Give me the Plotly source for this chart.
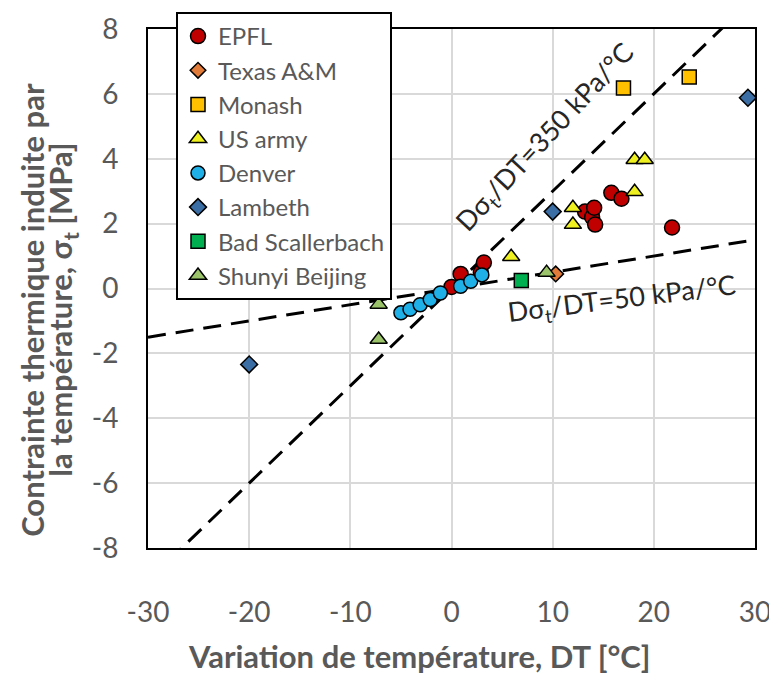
import plotly.graph_objects as go

# ---- data ----
epfl_x = [0.0, 0.9, 2.9, 3.2, 13.2, 13.9, 14.1, 14.2, 15.8, 16.8, 21.8]
epfl_y = [0.05, 0.45, 0.5, 0.8, 2.37, 2.2, 2.49, 1.97, 2.95, 2.77, 1.88]
texas_x = [10.3]
texas_y = [0.45]
monash_x = [17.0, 23.5]
monash_y = [6.18, 6.52]
usarmy_x = [5.9, 12.0, 12.0, 18.1, 19.1, 18.1]
usarmy_y = [0.98, 2.49, 1.97, 3.97, 3.97, 2.98]
denver_x = [-5.0, -4.1, -3.1, -2.1, -1.1, 0.9, 1.9, 3.0]
denver_y = [-0.75, -0.64, -0.5, -0.34, -0.14, 0.07, 0.22, 0.42]
lambeth_x = [-20.0, 10.0, 29.3]
lambeth_y = [-2.34, 2.37, 5.88]
bad_x = [6.9]
bad_y = [0.25]
shunyi_x = [-7.2, -7.2, 9.4]
shunyi_y = [-0.49, -1.57, 0.49]

# reference lines (MPa per degC, as drawn)
line_x = [-30, 30]
slope_350 = 0.30
slope_50 = 0.05

x_ticks = [-30, -20, -10, 0, 10, 20, 30]
x_labels = ["-30", "-20", "-10", "0", "10", "20", "30"]
y_ticks = [-8, -6, -4, -2, 0, 2, 4, 6, 8]
y_labels = ["-8", "-6", "-4", "-2", "0", "2", "4", "6", "8"]

FONT = "Lato"
GREY = "#595959"

# the page body adds an 8px margin, so the figure is 8px smaller on each side
W, H = 769, 668

fig = go.Figure()

dash = dict(color="black", width=3, dash="18px,10px")
fig.add_trace(go.Scatter(x=line_x, y=[slope_350 * v for v in line_x], mode="lines",
                         line=dash, showlegend=False, hoverinfo="skip"))
fig.add_trace(go.Scatter(x=line_x, y=[slope_50 * v for v in line_x], mode="lines",
                         line=dash, showlegend=False, hoverinfo="skip"))

series = [
    ("EPFL", epfl_x, epfl_y, "circle", "#C00000", 15),
    ("Texas A&M", texas_x, texas_y, "diamond", "#E07B39", 12),
    ("Monash", monash_x, monash_y, "square", "#FFC000", 14),
    ("US army", usarmy_x, usarmy_y, "triangle-up", "#EEF020", 15),
    ("Denver", denver_x, denver_y, "circle", "#1FB0E8", 14),
    ("Lambeth", lambeth_x, lambeth_y, "diamond", "#3A6EA5", 13),
    ("Bad Scallerbach", bad_x, bad_y, "square", "#00B050", 14),
    ("Shunyi Beijing", shunyi_x, shunyi_y, "triangle-up", "#9BC46A", 15),
]
for name, xs, ys, sym, col, sz in series:
    fig.add_trace(go.Scatter(
        x=xs, y=ys, mode="markers", name=name,
        marker=dict(symbol=sym, color=col, size=sz,
                    line=dict(color="black", width=1.5)),
    ))

fig.add_annotation(x=9.3, y=4.65, text="Dσ<sub>t</sub>/DT=350 kPa/°C", showarrow=False,
                   textangle=-47, font=dict(family=FONT, size=27, color="#262626"))
fig.add_annotation(x=16.9, y=-0.34, text="Dσ<sub>t</sub>/DT=50 kPa/°C", showarrow=False,
                   textangle=-7, font=dict(family=FONT, size=27, color="#262626"))

# axis titles as positioned text
fig.add_annotation(xref="paper", yref="paper", x=0.448, y=-0.208,
                   text="<b>Variation de température, DT [°C]</b>", showarrow=False,
                   xanchor="center", yanchor="middle",
                   font=dict(family=FONT, size=31, color=GREY))
fig.add_annotation(xref="paper", yref="paper", x=-0.191, y=0.459,
                   text="<b>Contrainte thermique induite par</b>", showarrow=False,
                   textangle=-90, xanchor="center", yanchor="middle",
                   font=dict(family=FONT, size=31, color=GREY))
fig.add_annotation(xref="paper", yref="paper", x=-0.140, y=0.459,
                   text="<b>la température, σ<sub>t</sub> [MPa]</b>", showarrow=False,
                   textangle=-90, xanchor="center", yanchor="middle",
                   font=dict(family=FONT, size=31, color=GREY))

fig.update_layout(
    width=W, height=H,
    margin=dict(l=140, r=22, t=21, b=128, autoexpand=False),
    paper_bgcolor="white", plot_bgcolor="white",
    font=dict(family=FONT, color=GREY),
    legend=dict(xref="container", yref="container",
                x=168 / W, y=1 - 4 / H, xanchor="left", yanchor="top",
                bgcolor="white", bordercolor="black", borderwidth=2,
                font=dict(family=FONT, size=24, color=GREY),
                tracegroupgap=0, itemwidth=30),
    xaxis=dict(range=[-30, 30], tickvals=x_ticks, ticktext=x_labels, showgrid=True,
               gridcolor="#D9D9D9", gridwidth=2, zeroline=False,
               showline=True, linecolor="black", linewidth=2, mirror=True,
               ticks="", ticklabelstandoff=38, automargin=False,
               tickfont=dict(family=FONT, size=28, color=GREY)),
    yaxis=dict(range=[-8, 8], tickvals=y_ticks, ticktext=y_labels, showgrid=True,
               gridcolor="#D9D9D9", gridwidth=2, zeroline=False,
               showline=True, linecolor="black", linewidth=2, mirror=True,
               ticks="", ticklabelstandoff=22, automargin=False,
               tickfont=dict(family=FONT, size=28, color=GREY)),
)

fig.write_html("out.html")
